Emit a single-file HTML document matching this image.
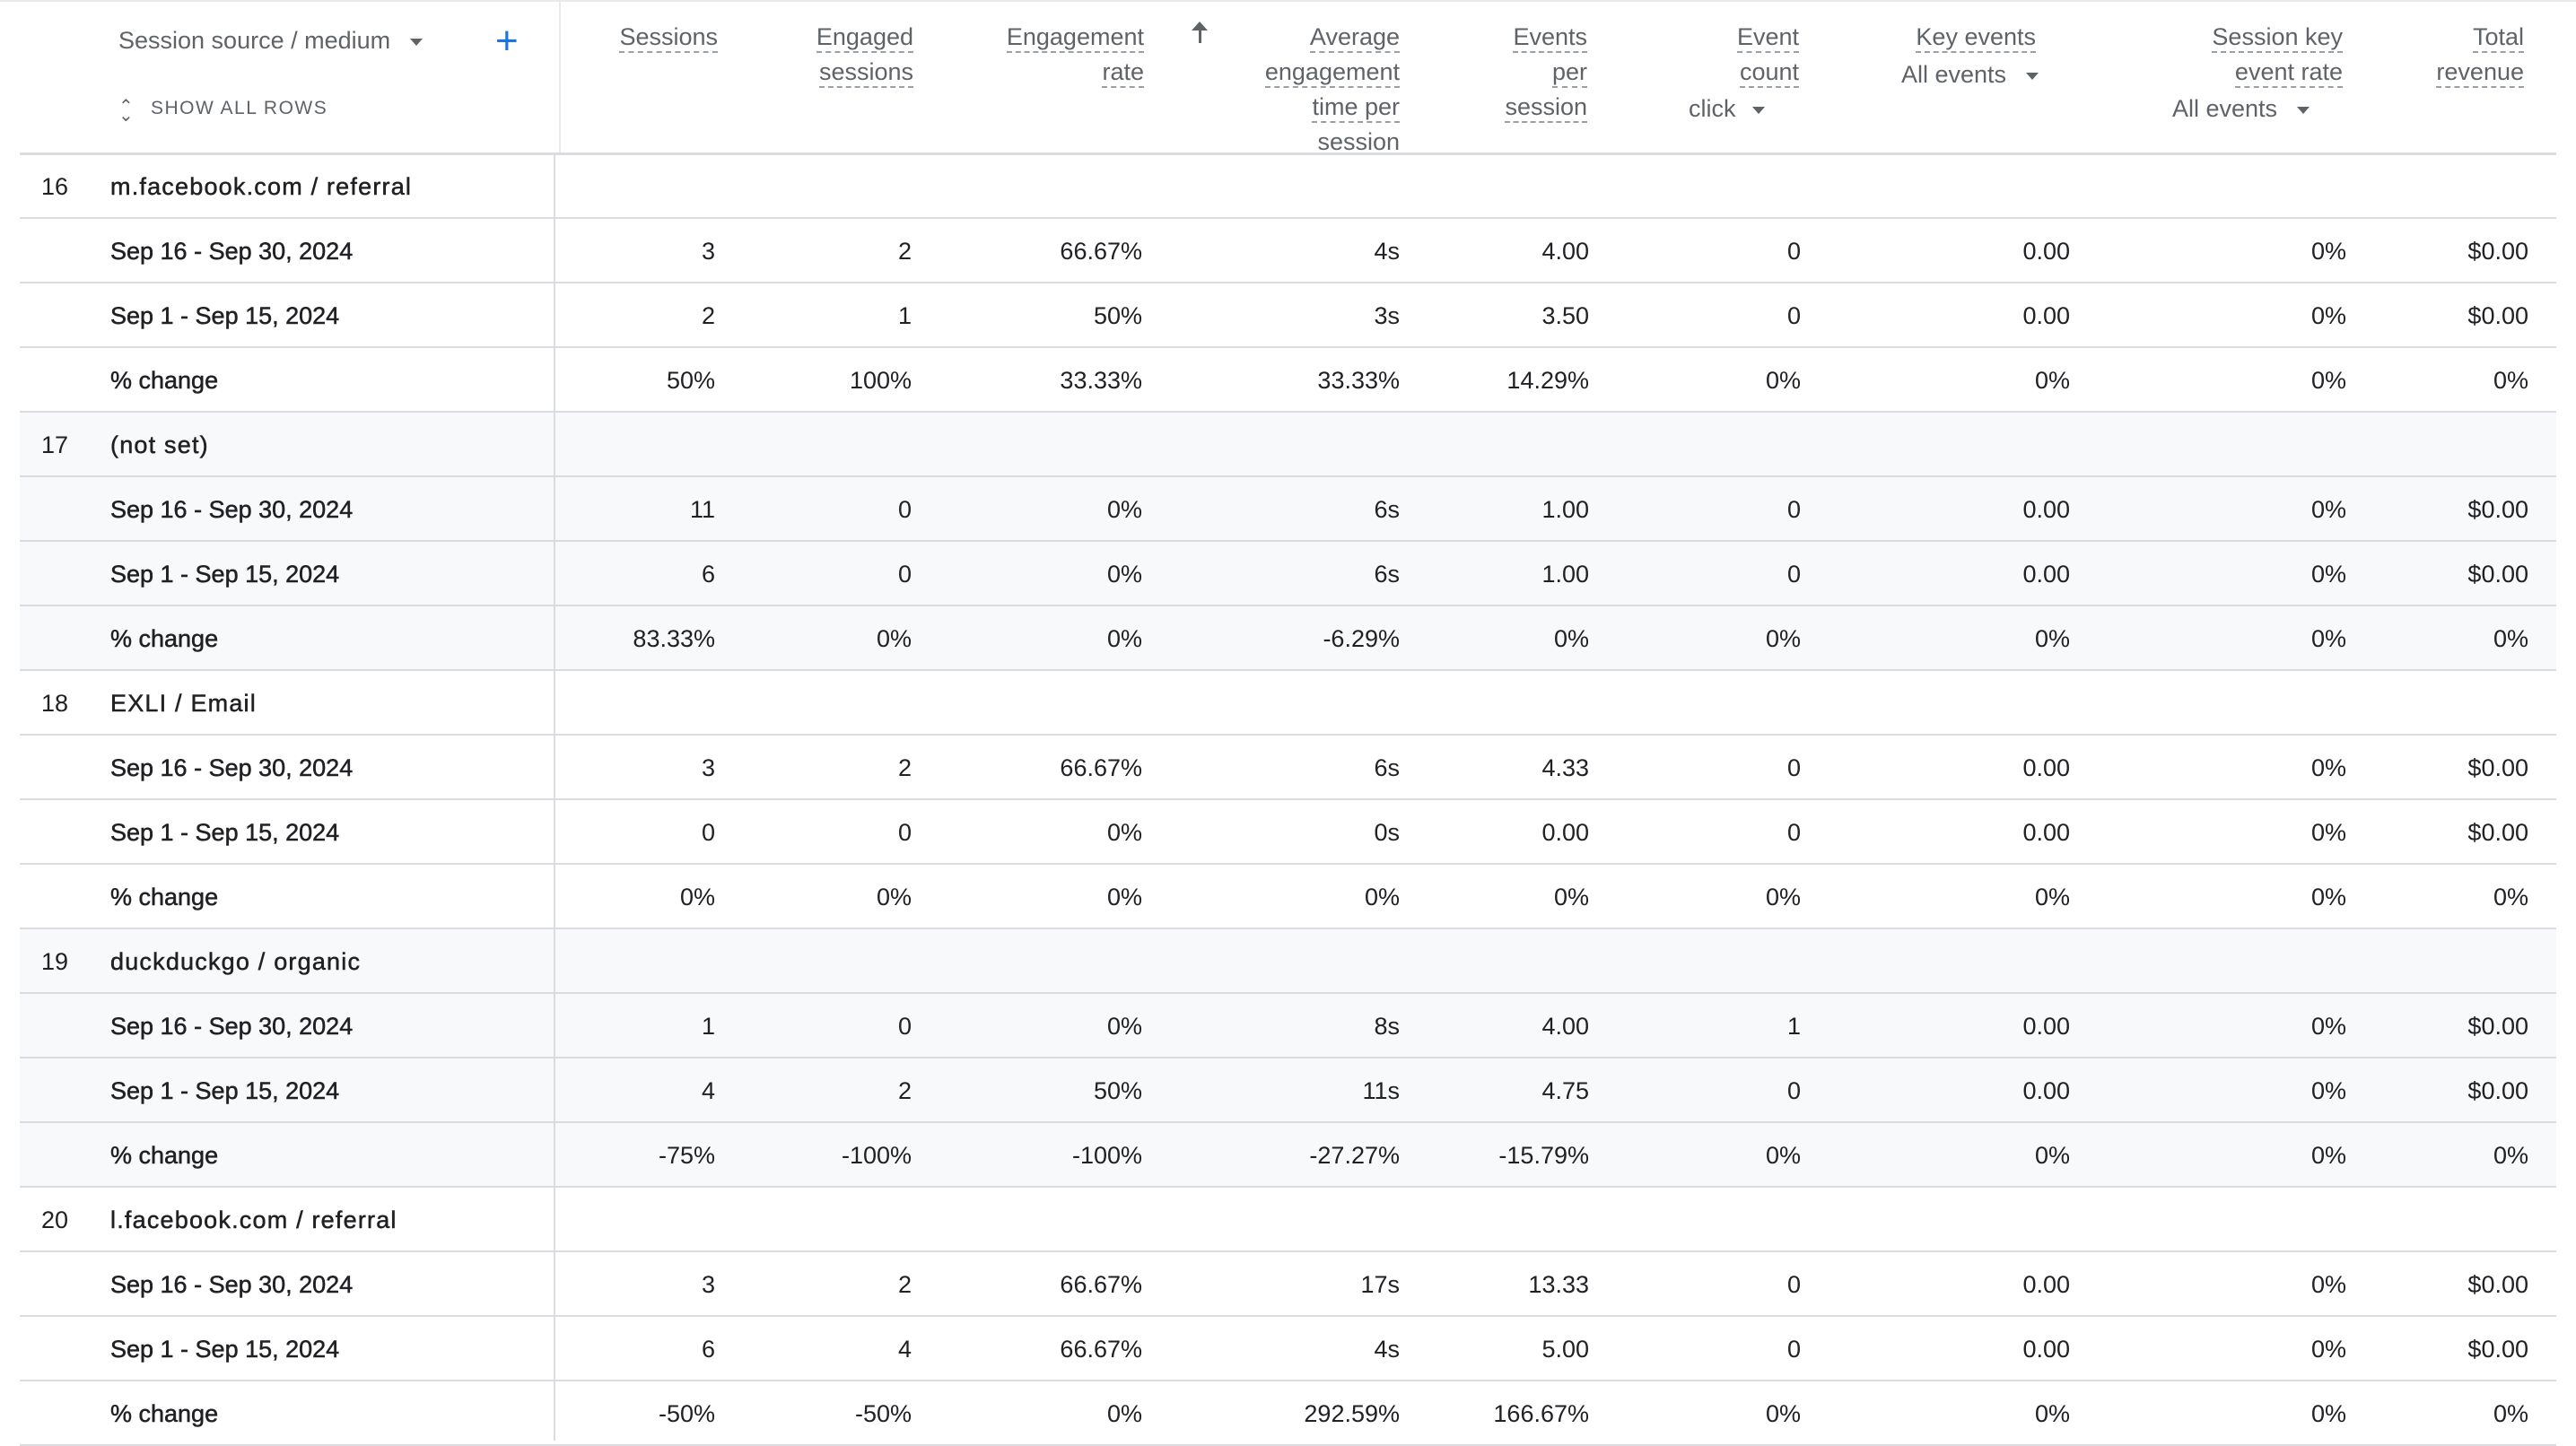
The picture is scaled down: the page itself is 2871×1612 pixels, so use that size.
<!DOCTYPE html>
<html><head><meta charset="utf-8"><style>
body{margin:0;width:2871px;height:1607px;overflow:hidden;background:#fff;font-family:"Liberation Sans",Arial,sans-serif;position:relative}
.a{position:absolute;white-space:nowrap}
.h{color:#5f6368;font-size:27px;text-align:right;line-height:39px;top:22px}
.h span.u{border-bottom:2px dashed #9aa0a6;padding-bottom:1px}
.dd{color:#5f6368;font-size:27px}
.tri{display:inline-block;width:0;height:0;border-left:7px solid transparent;border-right:7px solid transparent;border-top:8px solid #5f6368;vertical-align:middle;margin-left:22px}
#rows{position:absolute;left:22px;top:172px;width:2827px}
.r{position:relative;height:72px;box-sizing:border-box;border-bottom:2px solid #dadce0;font-size:27px;color:#202124}
.r.g{background:#f8f9fa}
.r span{position:absolute;top:0;line-height:72px}
.n{left:24px}.l{left:101px;-webkit-text-stroke:0.5px #202124}
.gl{letter-spacing:1.2px}
.c1{right:2052px}.c2{right:1833px}.c3{right:1576px}.c4{right:1289px}.c5{right:1078px}.c6{right:842px}.c7{right:542px}.c8{right:234px}.c9{right:31px}
</style></head><body>
<div class="a" style="left:0;top:0;width:2871px;height:2px;background:#e8eaed"></div>
<div class="a" style="left:623px;top:0;width:2px;height:172px;background:#e8eaed"></div>
<div class="a" style="left:617px;top:172px;width:2px;height:1434px;background:#dadce0;z-index:2"></div>
<div class="a" style="left:22px;top:170px;width:2827px;height:3px;background:#dadce0"></div>
<div class="a dd" style="left:132px;top:30px">Session source / medium<span class="tri"></span></div>
<div class="a" style="left:552px;top:16px;color:#1a73e8;font-size:44px;line-height:60px">+</div>
<div class="a" style="left:132px;top:104px;color:#5f6368;font-size:20px;line-height:30px">⌃</div>
<div class="a" style="left:132px;top:114px;color:#5f6368;font-size:20px;line-height:30px">⌄</div>
<div class="a" style="left:168px;top:106px;color:#5f6368;font-size:21px;letter-spacing:1.5px;line-height:30px">SHOW ALL ROWS</div>
<div class="a h" style="right:2071px"><span class="u">Sessions</span></div>
<div class="a h" style="right:1853px"><span class="u">Engaged</span><br><span class="u">sessions</span></div>
<div class="a h" style="right:1596px"><span class="u">Engagement</span><br><span class="u">rate</span></div>
<div class="a" style="left:1336px;top:26px;width:3px;height:22px;background:#5f6368"></div>
<div class="a" style="left:1328px;top:24px;width:0;height:0;border-left:9px solid transparent;border-right:9px solid transparent;border-bottom:10px solid #5f6368"></div>
<div class="a h" style="right:1311px"><span class="u">Average</span><br><span class="u">engagement</span><br><span class="u">time per</span><br>session</div>
<div class="a h" style="right:1102px"><span class="u">Events</span><br><span class="u">per</span><br><span class="u">session</span></div>
<div class="a h" style="right:866px"><span class="u">Event</span><br><span class="u">count</span></div>
<div class="a dd" style="left:1882px;top:106px">click<span class="tri" style="margin-left:18px"></span></div>
<div class="a h" style="right:602px"><span class="u">Key events</span></div>
<div class="a dd" style="left:2119px;top:68px">All events<span class="tri"></span></div>
<div class="a h" style="right:260px"><span class="u">Session key</span><br><span class="u">event rate</span></div>
<div class="a dd" style="left:2421px;top:106px">All events<span class="tri"></span></div>
<div class="a h" style="right:58px"><span class="u">Total</span><br><span class="u">revenue</span></div>
<div id="rows">
<div class="r"><span class="n">16</span><span class="l gl">m.facebook.com / referral</span></div>
<div class="r"><span class="l">Sep 16 - Sep 30, 2024</span><span class="c1">3</span><span class="c2">2</span><span class="c3">66.67%</span><span class="c4">4s</span><span class="c5">4.00</span><span class="c6">0</span><span class="c7">0.00</span><span class="c8">0%</span><span class="c9">$0.00</span></div>
<div class="r"><span class="l">Sep 1 - Sep 15, 2024</span><span class="c1">2</span><span class="c2">1</span><span class="c3">50%</span><span class="c4">3s</span><span class="c5">3.50</span><span class="c6">0</span><span class="c7">0.00</span><span class="c8">0%</span><span class="c9">$0.00</span></div>
<div class="r"><span class="l">% change</span><span class="c1">50%</span><span class="c2">100%</span><span class="c3">33.33%</span><span class="c4">33.33%</span><span class="c5">14.29%</span><span class="c6">0%</span><span class="c7">0%</span><span class="c8">0%</span><span class="c9">0%</span></div>
<div class="r g"><span class="n">17</span><span class="l gl">(not set)</span></div>
<div class="r g"><span class="l">Sep 16 - Sep 30, 2024</span><span class="c1">11</span><span class="c2">0</span><span class="c3">0%</span><span class="c4">6s</span><span class="c5">1.00</span><span class="c6">0</span><span class="c7">0.00</span><span class="c8">0%</span><span class="c9">$0.00</span></div>
<div class="r g"><span class="l">Sep 1 - Sep 15, 2024</span><span class="c1">6</span><span class="c2">0</span><span class="c3">0%</span><span class="c4">6s</span><span class="c5">1.00</span><span class="c6">0</span><span class="c7">0.00</span><span class="c8">0%</span><span class="c9">$0.00</span></div>
<div class="r g"><span class="l">% change</span><span class="c1">83.33%</span><span class="c2">0%</span><span class="c3">0%</span><span class="c4">-6.29%</span><span class="c5">0%</span><span class="c6">0%</span><span class="c7">0%</span><span class="c8">0%</span><span class="c9">0%</span></div>
<div class="r"><span class="n">18</span><span class="l gl">EXLI / Email</span></div>
<div class="r"><span class="l">Sep 16 - Sep 30, 2024</span><span class="c1">3</span><span class="c2">2</span><span class="c3">66.67%</span><span class="c4">6s</span><span class="c5">4.33</span><span class="c6">0</span><span class="c7">0.00</span><span class="c8">0%</span><span class="c9">$0.00</span></div>
<div class="r"><span class="l">Sep 1 - Sep 15, 2024</span><span class="c1">0</span><span class="c2">0</span><span class="c3">0%</span><span class="c4">0s</span><span class="c5">0.00</span><span class="c6">0</span><span class="c7">0.00</span><span class="c8">0%</span><span class="c9">$0.00</span></div>
<div class="r"><span class="l">% change</span><span class="c1">0%</span><span class="c2">0%</span><span class="c3">0%</span><span class="c4">0%</span><span class="c5">0%</span><span class="c6">0%</span><span class="c7">0%</span><span class="c8">0%</span><span class="c9">0%</span></div>
<div class="r g"><span class="n">19</span><span class="l gl">duckduckgo / organic</span></div>
<div class="r g"><span class="l">Sep 16 - Sep 30, 2024</span><span class="c1">1</span><span class="c2">0</span><span class="c3">0%</span><span class="c4">8s</span><span class="c5">4.00</span><span class="c6">1</span><span class="c7">0.00</span><span class="c8">0%</span><span class="c9">$0.00</span></div>
<div class="r g"><span class="l">Sep 1 - Sep 15, 2024</span><span class="c1">4</span><span class="c2">2</span><span class="c3">50%</span><span class="c4">11s</span><span class="c5">4.75</span><span class="c6">0</span><span class="c7">0.00</span><span class="c8">0%</span><span class="c9">$0.00</span></div>
<div class="r g"><span class="l">% change</span><span class="c1">-75%</span><span class="c2">-100%</span><span class="c3">-100%</span><span class="c4">-27.27%</span><span class="c5">-15.79%</span><span class="c6">0%</span><span class="c7">0%</span><span class="c8">0%</span><span class="c9">0%</span></div>
<div class="r"><span class="n">20</span><span class="l gl">l.facebook.com / referral</span></div>
<div class="r"><span class="l">Sep 16 - Sep 30, 2024</span><span class="c1">3</span><span class="c2">2</span><span class="c3">66.67%</span><span class="c4">17s</span><span class="c5">13.33</span><span class="c6">0</span><span class="c7">0.00</span><span class="c8">0%</span><span class="c9">$0.00</span></div>
<div class="r"><span class="l">Sep 1 - Sep 15, 2024</span><span class="c1">6</span><span class="c2">4</span><span class="c3">66.67%</span><span class="c4">4s</span><span class="c5">5.00</span><span class="c6">0</span><span class="c7">0.00</span><span class="c8">0%</span><span class="c9">$0.00</span></div>
<div class="r"><span class="l">% change</span><span class="c1">-50%</span><span class="c2">-50%</span><span class="c3">0%</span><span class="c4">292.59%</span><span class="c5">166.67%</span><span class="c6">0%</span><span class="c7">0%</span><span class="c8">0%</span><span class="c9">0%</span></div>
</div>
</body></html>
